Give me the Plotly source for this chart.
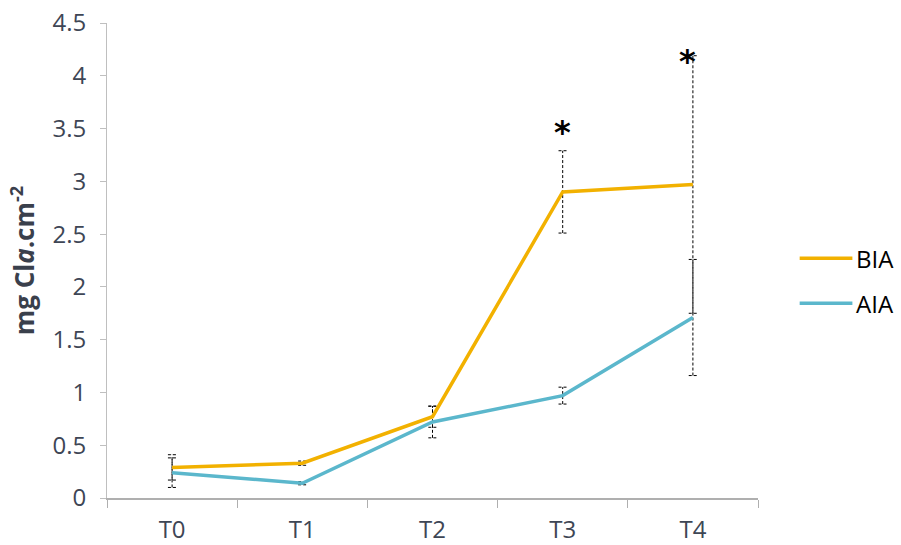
import plotly.graph_objects as go

# Sampling times and chlorophyll a per area for the two groups
times = ["T0", "T1", "T2", "T3", "T4"]
bia_mean = [0.29, 0.33, 0.77, 2.90, 2.97]
bia_err = [0.12, 0.02, 0.10, 0.39, 1.22]
aia_mean = [0.24, 0.14, 0.72, 0.97, 1.71]
aia_err = [0.14, 0.015, 0.15, 0.08, 0.55]
significant = ["", "", "", "*", "*"]

series = [
    ("BIA", bia_mean, bia_err, "#F2B100"),
    ("AIA", aia_mean, aia_err, "#5BB7CC"),
]

xpos = list(range(len(times)))
cap = 0.032  # half cap width in x units

# pixel nudges for each significance marker (x, y)
star_shift = {3: (0, -2), 4: (-5, -26)}

fig = go.Figure()

# dashed error bars with caps
for name, mean, err, color in series:
    ex, ey = [], []
    for x, m, e in zip(xpos, mean, err):
        lo, hi = m - e, m + e
        ex += [x, x, None, x - cap, x + cap, None, x - cap, x + cap, None]
        ey += [lo, hi, None, hi, hi, None, lo, lo, None]
    fig.add_trace(go.Scatter(
        x=ex, y=ey, mode="lines", showlegend=False, hoverinfo="skip",
        line=dict(color="#000000", width=1, dash="3px,2px"),
    ))

# mean lines
for name, mean, err, color in series:
    fig.add_trace(go.Scatter(
        x=xpos, y=mean, mode="lines", name=name, showlegend=False,
        line=dict(color=color, width=3.5),
    ))

# significance markers at the BIA error bars
for x, m, e, s in zip(xpos, bia_mean, bia_err, significant):
    if s:
        dx, dy = star_shift.get(x, (0, -2))
        fig.add_annotation(
            x=x, y=m + e, text=f"<b>{s}</b>", showarrow=False,
            xanchor="center", yanchor="bottom", xshift=dx, yshift=dy,
            font=dict(size=32, color="#000000", family="DejaVu Sans"),
        )

# legend drawn beside the plot
legend_y = [0.505, 0.41]
for (name, mean, err, color), ly in zip(series, legend_y):
    fig.add_shape(type="line", xref="paper", yref="paper",
                  x0=1.064, x1=1.145, y0=ly, y1=ly,
                  line=dict(color=color, width=3.5))
    fig.add_annotation(xref="paper", yref="paper", x=1.148, y=ly,
                       text=name, showarrow=False, xanchor="left",
                       yanchor="middle",
                       font=dict(size=24, color="#000000", family="Open Sans"))

fig.update_layout(
    width=901, height=545,
    margin=dict(l=107, r=143, t=23, b=47, autoexpand=False),
    plot_bgcolor="#ffffff", paper_bgcolor="#ffffff",
    font=dict(family="Open Sans", color="#3E4655", size=24),
    showlegend=False,
    xaxis=dict(
        range=[-0.5, 4.5], tickvals=xpos, ticktext=times, ticks="",
        showgrid=False, zeroline=False, showline=True, automargin=False,
        linecolor="#AFAFAF", linewidth=2, ticklabelstandoff=9,
        minor=dict(tickvals=[x - 0.5 for x in xpos] + [xpos[-1] + 0.5],
                   ticks="outside", ticklen=8, tickcolor="#AFAFAF",
                   tickwidth=1, showgrid=False),
        tickfont=dict(size=24),
    ),
    yaxis=dict(
        range=[0, 4.5], dtick=0.5, tick0=0, ticks="outside", ticklen=6,
        tickcolor="#BFBFBF", showgrid=False, zeroline=False, showline=True,
        linecolor="#BFBFBF", linewidth=1, ticklabelstandoff=9,
        automargin=False, tickfont=dict(size=24),
        title=dict(text="<b>mg Cl<i>a</i>.cm<sup>-2</sup></b>",
                   font=dict(size=26, color="#3A404C"), standoff=10),
    ),
)

fig.write_html("out.html")
